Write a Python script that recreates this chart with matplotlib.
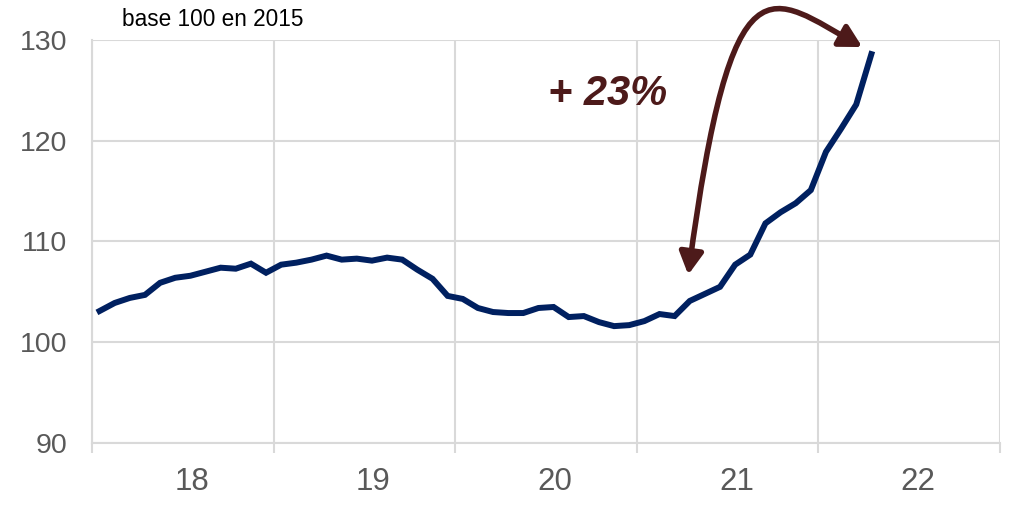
import numpy as np
import matplotlib.pyplot as plt
from matplotlib.patches import FancyArrowPatch
from matplotlib.path import Path

plt.rcParams['font.family'] = ['Liberation Sans', 'DejaVu Sans']

# monthly index, Jan 2018 -> Apr 2022 (base 100 en 2015)
values = [
    103.1, 103.9, 104.4, 104.7, 105.9, 106.4, 106.6, 107.0, 107.4, 107.3, 107.8, 106.9,
    107.7, 107.9, 108.2, 108.6, 108.2, 108.3, 108.1, 108.4, 108.2, 107.2, 106.3, 104.6,
    104.3, 103.4, 103.0, 102.9, 102.9, 103.4, 103.5, 102.5, 102.6, 102.0, 101.6, 101.7,
    102.1, 102.8, 102.6, 104.1, 104.8, 105.5, 107.7, 108.7, 111.8, 112.9, 113.8, 115.1,
    118.9, 121.2, 123.6, 128.6,
]
years = ['18', '19', '20', '21', '22']
y_ticks = [90, 100, 110, 120, 130]

grid_col = '#d9d9d9'
text_col = '#595959'
line_col = '#002060'
arrow_col = '#4d1a1a'

fig = plt.figure(figsize=(10.12, 5.05), dpi=100)
ax = fig.add_axes([92 / 1012, 62 / 505, 908 / 1012, 403 / 505])

x = np.arange(len(values))
ax.plot(x, values, color=line_col, lw=4.3, solid_joinstyle='miter', zorder=3)

n_months = 12 * len(years)
ax.set_xlim(-0.5, n_months - 0.5)
ax.set_ylim(y_ticks[0], y_ticks[-1])

# year boundaries as major ticks, year labels on minor ticks
ax.set_xticks(np.arange(0, n_months + 1, 12) - 0.5)
ax.set_xticklabels([])
ax.set_xticks(np.arange(len(years)) * 12 + 6.1, minor=True)
ax.set_xticklabels(years, minor=True)
ax.tick_params(axis='x', which='major', length=7.2, width=1.5, color=grid_col)
ax.tick_params(axis='x', which='minor', length=0, pad=17, labelsize=22.5, labelcolor=text_col)

ax.set_yticks(y_ticks)
ax.tick_params(axis='y', length=0, pad=18, labelsize=20.5, labelcolor=text_col)

ax.grid(True, which='major', color=grid_col, lw=1.5, zorder=0)
for side in ['top', 'right']:
    ax.spines[side].set_visible(False)
for side in ['left', 'bottom']:
    ax.spines[side].set_color(grid_col)
    ax.spines[side].set_linewidth(1.5)

fig.text(122 / 1012, 1 - 26 / 505, 'base 100 en 2015', fontsize=16.3,
         color='black', va='baseline', ha='left')

fig.text(548 / 1012, 1 - 105 / 505, '+ 23%', fontsize=30, fontweight='bold',
         fontstyle='italic', color=arrow_col, va='baseline', ha='left')

# curved double arrow
verts = [(38.9, 106.7), (41.8, 139.4), (44.3, 134.4), (50.4, 129.3)]
codes = [Path.MOVETO, Path.CURVE4, Path.CURVE4, Path.CURVE4]
arrow = FancyArrowPatch(path=Path(verts, codes),
                        arrowstyle='<|-|>,head_length=1.1,head_width=0.6',
                        mutation_scale=12, color=arrow_col, lw=4,
                        transform=ax.transData, clip_on=False, zorder=4)
ax.add_patch(arrow)

fig.savefig('out.png', dpi=100)
